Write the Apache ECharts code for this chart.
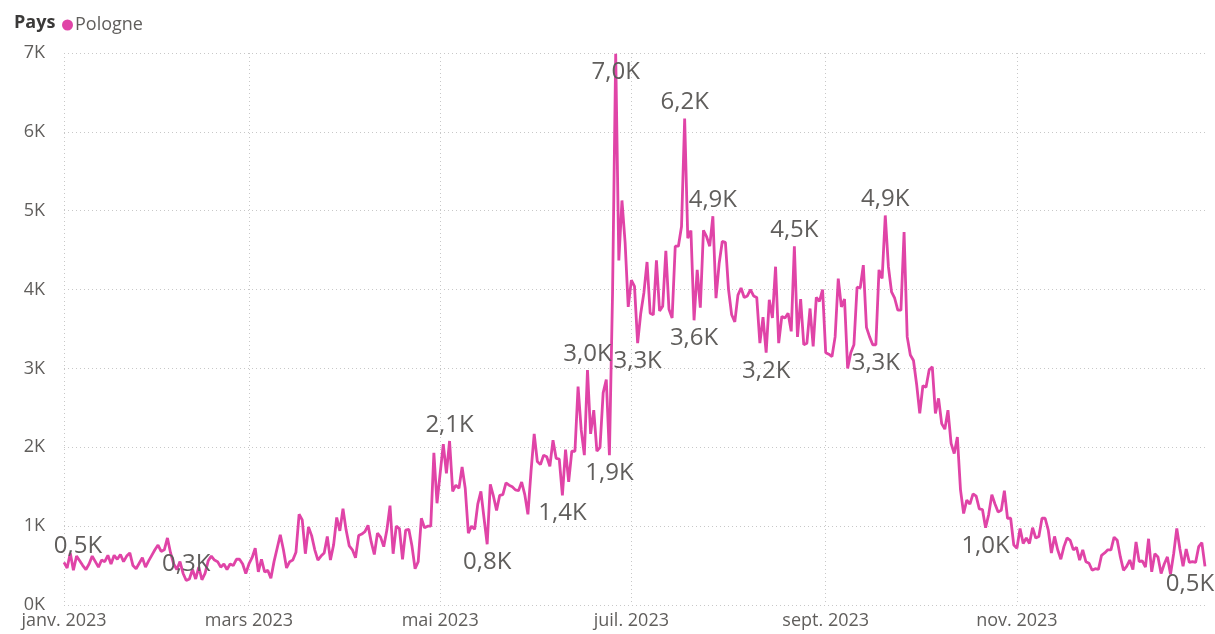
<!DOCTYPE html>
<html><head><meta charset="utf-8">
<script src="https://cdn.jsdelivr.net/npm/echarts@6/dist/echarts.min.js"></script>
<style>html,body{margin:0;padding:0;background:#fff}#c{width:1215px;height:634px}</style>
</head><body><div id="c"></div>
<script>
// Daily values (Pologne), 2023, one array per month
const jan=[540,470,660,440,620,560,500,450,520,620,550,480,570,550,630,520,630,580,640,550,620,660,500,460,530,600,480,560,630,700,760];
const feb=[680,700,850,660,520,450,550,400,310,330,450,330,480,320,400,560,620,570,550,480,520,450,520,500,580,580,520,400];
const mar=[520,600,720,420,580,420,440,340,550,720,890,700,470,550,570,670,1150,1080,650,990,880,700,570,620,660,870,570,760,1110,940,1220];
const apr=[950,750,700,600,880,900,930,1010,800,640,910,860,740,950,1260,650,1000,970,580,950,960,750,460,550,1100,980,1000,1000,1930,1290];
const may=[1670,2040,1670,2080,1440,1520,1480,1750,1480,910,1000,960,1280,1440,1100,770,1530,1380,1200,1390,1400,1550,1520,1500,1460,1450,1560,1400,1150,1700,2170];
const jun=[1820,1780,1900,1880,1760,2090,1860,1850,1390,1970,1560,1950,1950,2770,2220,1900,2980,2170,2470,1950,2000,2690,2860,1900,3960,6990,4370,5130,4600,3780];
const jul=[4120,4040,3320,3700,3960,4350,3700,3680,4370,3730,3790,4490,3750,3640,4550,4550,4800,6170,4650,4750,3610,4250,3770,4750,4670,4550,4930,3890,4330,4610,4600];
const aug=[4000,3680,3590,3930,4020,3900,3920,4000,3920,3900,3320,3650,3200,3870,3640,4290,3320,3660,3640,3700,3470,4550,3400,3880,3300,3320,3760,3280,3900,3850,4000];
const sep=[3200,3180,3150,3400,4140,3780,3880,3000,3200,3300,4030,4020,4310,3520,3400,3300,3300,4250,4140,4940,4290,3970,3890,3740,3740,4730,3400,3170,3100,2800];
const oct=[2430,2780,2760,2980,3020,2430,2620,2300,2230,2470,2050,1920,2130,1460,1160,1330,1280,1410,1380,1220,1210,980,1150,1400,1280,1180,1200,1450,1100,1100,760];
const nov=[720,970,780,850,780,980,850,870,1100,1100,950,660,870,700,580,740,850,820,700,730,570,700,550,530,440,460,450,630,660,700];
const dec=[700,860,820,610,440,490,570,450,800,550,560,480,840,420,650,610,400,520,610,390,650,970,710,490,710,540,550,540,740,790,490];

// Axis tick labels
const tickLabels={'2023-01-01':'janv. 2023','2023-03-01':'mars 2023','2023-05-01':'mai 2023','2023-07-01':'juil. 2023','2023-09-01':'sept. 2023','2023-11-01':'nov. 2023'};
const yTicks=['0K','1K','2K','3K','4K','5K','6K','7K'];
// Dates whose values carry a data label
const labelsAbove=['2023-01-01','2023-02-09','2023-05-04','2023-06-17','2023-07-18','2023-07-27','2023-08-22','2023-09-20'];
const labelsBelow=['2023-05-16','2023-06-09','2023-06-24','2023-06-26','2023-07-03','2023-07-21','2023-08-13','2023-09-17','2023-10-22','2023-12-31'];

const values=[].concat(jan,feb,mar,apr,may,jun,jul,aug,sep,oct,nov,dec);
const dates=[];
for(let i=0;i<values.length;i++){
  const d=new Date(Date.UTC(2023,0,1+i));
  dates.push(d.toISOString().slice(0,10));
}
const FONT="'Segoe UI','Open Sans',sans-serif";
const first=dates[0], last=dates[dates.length-1];
const seriesData=values.map((v,i)=>{
  const dt=dates[i];
  let pos=null;
  if(labelsAbove.includes(dt)) pos='top';
  if(labelsBelow.includes(dt)) pos='bottom';
  if(!pos) return v;
  const lab={show:true,position:pos,distance:pos==='top'?4:6};
  if(dt===first) lab.offset=[14,0];
  if(dt===last) lab.offset=[-15,0];
  return {value:v,label:lab};
});
const isTick=(idx,val)=>tickLabels.hasOwnProperty(dates[idx]);

const chart=echarts.init(document.getElementById('c'));
chart.setOption({
  animation:false,
  title:{text:'Pays',left:9,top:9,textStyle:{fontFamily:FONT,fontSize:18,fontWeight:'bold',color:'#3b3a39'}},
  legend:{left:57,top:11,icon:'circle',itemWidth:11,itemHeight:11,itemGap:8,
    textStyle:{fontFamily:FONT,fontSize:18,color:'#605E5C',padding:[0,0,0,-3]},data:['Pologne']},
  grid:{left:64,right:10,top:53,bottom:29,containLabel:false},
  xAxis:{type:'category',data:dates,boundaryGap:false,
    axisLine:{show:false},axisTick:{show:false},
    axisLabel:{interval:isTick,formatter:v=>tickLabels[v]||'',fontFamily:FONT,fontSize:18,color:'#605E5C',margin:7},
    splitLine:{show:true,interval:isTick,lineStyle:{type:[1,3],color:'#c8c8c8',width:1}}},
  yAxis:{type:'value',min:0,max:7000,interval:1000,
    axisLine:{show:false},axisTick:{show:false},
    axisLabel:{formatter:v=>yTicks[Math.round(v/1000)],fontFamily:FONT,fontSize:18,color:'#605E5C',margin:19},
    splitLine:{show:true,lineStyle:{type:[1,3],color:'#c8c8c8',width:1}}},
  series:[{name:'Pologne',type:'line',data:seriesData,
    symbol:'circle',symbolSize:0,showSymbol:true,showAllSymbol:true,
    lineStyle:{color:'#E044A7',width:2.8},itemStyle:{color:'#E044A7'},
    emphasis:{disabled:true},
    label:{show:false,fontFamily:FONT,fontSize:24,color:'#605E5C',
      formatter:p=>(p.value/1000).toFixed(1).replace('.',',')+'K'}}]
});
</script></body></html>
